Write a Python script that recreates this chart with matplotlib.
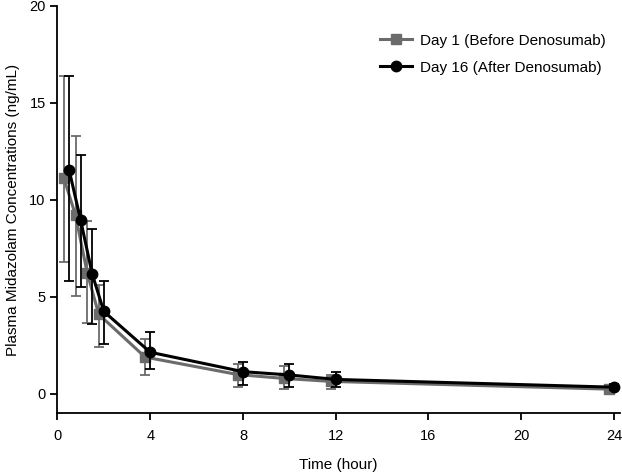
import numpy as np
import matplotlib
matplotlib.use("Agg")
import matplotlib.pyplot as plt

plt.rcParams["font.family"] = ["Liberation Sans", "DejaVu Sans"]

# sampling times (hour)
times = np.array([0.5, 1, 1.5, 2, 4, 8, 10, 12, 24])

# Day 1 (before denosumab) - mean, lower bar end, upper bar end
day1_mean = [11.1, 9.2, 6.25, 4.1, 1.9, 1.0, 0.8, 0.65, 0.25]
day1_low = [6.8, 5.05, 3.65, 2.4, 0.98, 0.35, 0.26, 0.25, 0.12]
day1_high = [16.4, 13.3, 8.9, 5.6, 2.85, 1.53, 1.44, 1.0, 0.38]

# Day 16 (after denosumab)
day16_mean = [11.55, 8.95, 6.17, 4.25, 2.15, 1.15, 0.98, 0.75, 0.35]
day16_low = [5.82, 5.5, 3.6, 2.6, 1.27, 0.46, 0.38, 0.35, 0.2]
day16_high = [16.4, 12.3, 8.5, 5.82, 3.2, 1.65, 1.55, 1.15, 0.5]

labels = ["Day 1 (Before Denosumab)", "Day 16 (After Denosumab)"]
gray = "#6b6b6b"

fig = plt.figure(figsize=(6.22, 4.73), dpi=100)
ax = fig.add_axes([0.0924, 0.126, 0.9044, 0.862])

x1 = times - 0.22
m1 = np.array(day1_mean)
ax.errorbar(x1, m1, yerr=[m1 - np.array(day1_low), np.array(day1_high) - m1],
            color=gray, ecolor=gray, lw=2.2, elinewidth=1.3, capsize=3.5,
            capthick=1.3, marker="s", markersize=6.5, label=labels[0], zorder=2)

m16 = np.array(day16_mean)
ax.errorbar(times, m16, yerr=[m16 - np.array(day16_low), np.array(day16_high) - m16],
            color="black", ecolor="black", lw=2.2, elinewidth=1.3, capsize=3.5,
            capthick=1.3, marker="o", markersize=7.5, label=labels[1], zorder=3)

ax.set_xlim(0, 24.26)
ax.set_ylim(-1, 20)
ax.set_xticks([0, 4, 8, 12, 16, 20, 24])
ax.set_yticks([0, 5, 10, 15, 20])
ax.spines["top"].set_visible(False)
ax.spines["right"].set_visible(False)
ax.spines["left"].set_linewidth(1.3)
ax.spines["bottom"].set_linewidth(1.3)
ax.tick_params(direction="out", length=5, width=1.3, labelsize=10.5)
ax.tick_params(axis="x", pad=6)

ax.set_xlabel("Time (hour)", fontsize=11, labelpad=11)
ax.set_ylabel("Plasma Midazolam Concentrations (ng/mL)", fontsize=11, labelpad=7)

handles, labs = ax.get_legend_handles_labels()
handles = [h[0] for h in handles]
fig.legend(handles, labs, loc="upper left", bbox_to_anchor=(0.601, 0.942),
           borderaxespad=0, frameon=False, fontsize=11, handlelength=2.1,
           handletextpad=0.5, labelspacing=0.85)

fig.savefig("out.png", dpi=100)
